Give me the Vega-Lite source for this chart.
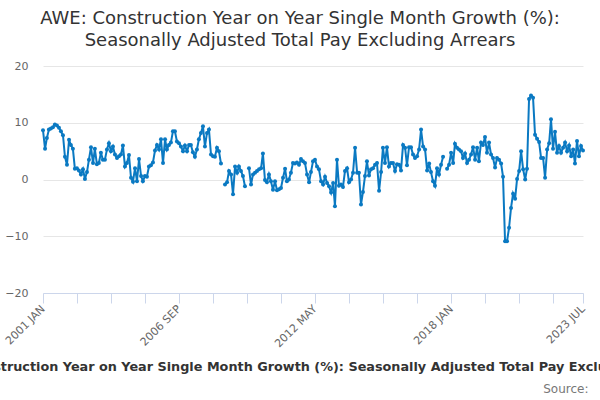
{
  "$schema": "https://vega.github.io/schema/vega-lite/v6.json",
  "width": 540,
  "height": 227,
  "autosize": {"type": "none"},
  "padding": {"left": 43, "top": 66, "right": 17, "bottom": 107},
  "background": "white",
  "config": {"view": {"stroke": null}, "font": "DejaVu Sans"},
  "title": {
    "text": ["AWE: Construction Year on Year Single Month Growth (%):", "Seasonally Adjusted Total Pay Excluding Arrears"],
    "fontSize": 18,
    "fontWeight": "normal",
    "color": "#333333",
    "font": "DejaVu Sans",
    "anchor": "middle",
    "dx": -13,
    "offset": 10,
    "lineHeight": 22
  },
  "data": {
    "values": [
      {"d": "2001-01", "v": 8.7, "s": 1}, {"d": "2001-02", "v": 5.4, "s": 1}, {"d": "2001-03", "v": 7.3, "s": 1}, {"d": "2001-04", "v": 8.8, "s": 1},
      {"d": "2001-05", "v": 9.0, "s": 1}, {"d": "2001-06", "v": 9.2, "s": 1}, {"d": "2001-07", "v": 9.7, "s": 1}, {"d": "2001-08", "v": 9.5, "s": 1},
      {"d": "2001-09", "v": 9.1, "s": 1}, {"d": "2001-10", "v": 8.5, "s": 1}, {"d": "2001-11", "v": 7.8, "s": 1}, {"d": "2001-12", "v": 4.0, "s": 1},
      {"d": "2002-01", "v": 2.6, "s": 1}, {"d": "2002-02", "v": 7.0, "s": 1}, {"d": "2002-03", "v": 6.1, "s": 1}, {"d": "2002-04", "v": 5.4, "s": 1},
      {"d": "2002-05", "v": 1.9, "s": 1}, {"d": "2002-06", "v": 2.0, "s": 1}, {"d": "2002-07", "v": 1.6, "s": 1}, {"d": "2002-08", "v": 0.9, "s": 1},
      {"d": "2002-09", "v": 1.8, "s": 1}, {"d": "2002-10", "v": 0.1, "s": 1}, {"d": "2002-11", "v": 1.3, "s": 1}, {"d": "2002-12", "v": 3.5, "s": 1},
      {"d": "2003-01", "v": 5.7, "s": 1}, {"d": "2003-02", "v": 2.9, "s": 1}, {"d": "2003-03", "v": 5.4, "s": 1}, {"d": "2003-04", "v": 2.7, "s": 1},
      {"d": "2003-05", "v": 2.9, "s": 1}, {"d": "2003-06", "v": 4.7, "s": 1}, {"d": "2003-07", "v": 3.5, "s": 1}, {"d": "2003-08", "v": 3.5, "s": 1},
      {"d": "2003-09", "v": 5.3, "s": 1}, {"d": "2003-10", "v": 6.4, "s": 1}, {"d": "2003-11", "v": 5.0, "s": 1}, {"d": "2003-12", "v": 5.8, "s": 1},
      {"d": "2004-01", "v": 4.4, "s": 1}, {"d": "2004-02", "v": 3.8, "s": 1}, {"d": "2004-03", "v": 4.1, "s": 1}, {"d": "2004-04", "v": 4.4, "s": 1},
      {"d": "2004-05", "v": 6.0, "s": 1}, {"d": "2004-06", "v": 2.3, "s": 1}, {"d": "2004-07", "v": 2.9, "s": 1}, {"d": "2004-08", "v": 4.3, "s": 1},
      {"d": "2004-09", "v": 0.3, "s": 1}, {"d": "2004-10", "v": -0.4, "s": 1}, {"d": "2004-11", "v": 2.0, "s": 1}, {"d": "2004-12", "v": -0.3, "s": 1},
      {"d": "2005-01", "v": 3.6, "s": 1}, {"d": "2005-02", "v": 0.6, "s": 1}, {"d": "2005-03", "v": -0.3, "s": 1}, {"d": "2005-04", "v": 0.6, "s": 1},
      {"d": "2005-05", "v": 0.5, "s": 1}, {"d": "2005-06", "v": 2.3, "s": 1}, {"d": "2005-07", "v": 2.5, "s": 1}, {"d": "2005-08", "v": 3.0, "s": 1},
      {"d": "2005-09", "v": 5.1, "s": 1}, {"d": "2005-10", "v": 6.1, "s": 1}, {"d": "2005-11", "v": 5.3, "s": 1}, {"d": "2005-12", "v": 7.1, "s": 1},
      {"d": "2006-01", "v": 2.9, "s": 1}, {"d": "2006-02", "v": 7.1, "s": 1}, {"d": "2006-03", "v": 5.3, "s": 1}, {"d": "2006-04", "v": 6.1, "s": 1},
      {"d": "2006-05", "v": 6.5, "s": 1}, {"d": "2006-06", "v": 8.5, "s": 1}, {"d": "2006-07", "v": 8.5, "s": 1}, {"d": "2006-08", "v": 6.7, "s": 1},
      {"d": "2006-09", "v": 6.4, "s": 1}, {"d": "2006-10", "v": 5.8, "s": 1}, {"d": "2006-11", "v": 5.0, "s": 1}, {"d": "2006-12", "v": 6.0, "s": 1},
      {"d": "2007-01", "v": 5.0, "s": 1}, {"d": "2007-02", "v": 6.1, "s": 1}, {"d": "2007-03", "v": 6.1, "s": 1}, {"d": "2007-04", "v": 4.8, "s": 1},
      {"d": "2007-05", "v": 4.0, "s": 1}, {"d": "2007-06", "v": 5.3, "s": 1}, {"d": "2007-07", "v": 7.1, "s": 1}, {"d": "2007-08", "v": 8.2, "s": 1},
      {"d": "2007-09", "v": 9.4, "s": 1}, {"d": "2007-10", "v": 5.8, "s": 1}, {"d": "2007-11", "v": 8.2, "s": 1}, {"d": "2007-12", "v": 8.8, "s": 1},
      {"d": "2008-01", "v": 4.4, "s": 1}, {"d": "2008-02", "v": 4.1, "s": 1}, {"d": "2008-03", "v": 4.0, "s": 1}, {"d": "2008-04", "v": 5.6, "s": 1},
      {"d": "2008-05", "v": 5.0, "s": 1}, {"d": "2008-06", "v": 2.8, "s": 1},
      {"d": "2008-08", "v": -0.9, "s": 2}, {"d": "2008-09", "v": -0.5, "s": 2}, {"d": "2008-10", "v": 1.5, "s": 2}, {"d": "2008-11", "v": 0.9, "s": 2},
      {"d": "2008-12", "v": -2.6, "s": 2}, {"d": "2009-01", "v": 2.3, "s": 2}, {"d": "2009-02", "v": 1.2, "s": 2}, {"d": "2009-03", "v": 2.3, "s": 2},
      {"d": "2009-04", "v": 1.5, "s": 2}, {"d": "2009-05", "v": 0.6, "s": 2}, {"d": "2009-06", "v": -1.2, "s": 2},
      {"d": "2009-08", "v": 2.0, "s": 3}, {"d": "2009-09", "v": -0.9, "s": 3}, {"d": "2009-10", "v": 0.9, "s": 3}, {"d": "2009-11", "v": 1.2, "s": 3},
      {"d": "2009-12", "v": 1.5, "s": 3},
      {"d": "2010-01", "v": 1.8, "s": 3}, {"d": "2010-02", "v": 2.0, "s": 3}, {"d": "2010-03", "v": 4.6, "s": 3}, {"d": "2010-04", "v": -0.1, "s": 3},
      {"d": "2010-05", "v": -0.5, "s": 3}, {"d": "2010-06", "v": 0.9, "s": 3}, {"d": "2010-07", "v": -0.3, "s": 3}, {"d": "2010-08", "v": -1.8, "s": 3},
      {"d": "2010-09", "v": -0.3, "s": 3}, {"d": "2010-10", "v": -1.9, "s": 3}, {"d": "2010-11", "v": -1.7, "s": 3}, {"d": "2010-12", "v": -1.5, "s": 3},
      {"d": "2011-01", "v": 0.3, "s": 3}, {"d": "2011-02", "v": 1.9, "s": 3}, {"d": "2011-03", "v": -0.3, "s": 3}, {"d": "2011-04", "v": 0.0, "s": 3},
      {"d": "2011-05", "v": 1.2, "s": 3}, {"d": "2011-06", "v": 2.9, "s": 3}, {"d": "2011-07", "v": 2.8, "s": 3}, {"d": "2011-08", "v": 3.0, "s": 3},
      {"d": "2011-09", "v": 2.6, "s": 3}, {"d": "2011-10", "v": 3.6, "s": 3}, {"d": "2011-11", "v": 3.2, "s": 3}, {"d": "2011-12", "v": 2.9, "s": 3},
      {"d": "2012-01", "v": 0.9, "s": 3}, {"d": "2012-02", "v": -0.5, "s": 3}, {"d": "2012-03", "v": 1.3, "s": 3}, {"d": "2012-04", "v": 3.2, "s": 3},
      {"d": "2012-05", "v": 3.5, "s": 3}, {"d": "2012-06", "v": 2.3, "s": 3}, {"d": "2012-07", "v": 1.8, "s": 3}, {"d": "2012-08", "v": -0.3, "s": 3},
      {"d": "2012-09", "v": -0.9, "s": 3}, {"d": "2012-10", "v": 0.5, "s": 3}, {"d": "2012-11", "v": -0.6, "s": 3}, {"d": "2012-12", "v": -1.2, "s": 3},
      {"d": "2013-01", "v": -2.3, "s": 3}, {"d": "2013-02", "v": -0.6, "s": 3}, {"d": "2013-03", "v": -4.7, "s": 3}, {"d": "2013-04", "v": 3.5, "s": 3},
      {"d": "2013-05", "v": -1.1, "s": 3}, {"d": "2013-06", "v": -0.9, "s": 3}, {"d": "2013-07", "v": -1.3, "s": 3}, {"d": "2013-08", "v": 1.5, "s": 3},
      {"d": "2013-09", "v": 2.0, "s": 3}, {"d": "2013-10", "v": -0.5, "s": 3}, {"d": "2013-11", "v": 0.0, "s": 3}, {"d": "2013-12", "v": 1.2, "s": 3},
      {"d": "2014-01", "v": 5.6, "s": 3}, {"d": "2014-02", "v": 1.2, "s": 3}, {"d": "2014-03", "v": 1.2, "s": 3}, {"d": "2014-04", "v": -4.4, "s": 3},
      {"d": "2014-05", "v": -2.2, "s": 3}, {"d": "2014-06", "v": 0.6, "s": 3}, {"d": "2014-07", "v": 3.2, "s": 3}, {"d": "2014-08", "v": 0.7, "s": 3},
      {"d": "2014-09", "v": 1.8, "s": 3}, {"d": "2014-10", "v": 2.0, "s": 3}, {"d": "2014-11", "v": 2.6, "s": 3}, {"d": "2014-12", "v": 2.9, "s": 3},
      {"d": "2015-01", "v": -2.0, "s": 3}, {"d": "2015-02", "v": 1.3, "s": 3}, {"d": "2015-03", "v": 5.6, "s": 3}, {"d": "2015-04", "v": 2.9, "s": 3},
      {"d": "2015-05", "v": 5.7, "s": 3}, {"d": "2015-06", "v": 2.3, "s": 3}, {"d": "2015-07", "v": 2.9, "s": 3}, {"d": "2015-08", "v": 2.9, "s": 3},
      {"d": "2015-09", "v": 1.5, "s": 3}, {"d": "2015-10", "v": 2.7, "s": 3}, {"d": "2015-11", "v": 2.6, "s": 3}, {"d": "2015-12", "v": 1.6, "s": 3},
      {"d": "2016-01", "v": 6.1, "s": 3}, {"d": "2016-02", "v": 5.6, "s": 3}, {"d": "2016-03", "v": 2.5, "s": 3}, {"d": "2016-04", "v": 5.7, "s": 3},
      {"d": "2016-05", "v": 5.7, "s": 3}, {"d": "2016-06", "v": 4.4, "s": 3}, {"d": "2016-07", "v": 3.8, "s": 3}, {"d": "2016-08", "v": 4.1, "s": 3},
      {"d": "2016-09", "v": 5.3, "s": 3}, {"d": "2016-10", "v": 8.8, "s": 3}, {"d": "2016-11", "v": 5.8, "s": 3}, {"d": "2016-12", "v": 5.3, "s": 3},
      {"d": "2017-01", "v": 1.6, "s": 3}, {"d": "2017-02", "v": 2.8, "s": 3}, {"d": "2017-03", "v": 1.3, "s": 3}, {"d": "2017-04", "v": -0.3, "s": 3},
      {"d": "2017-05", "v": -1.1, "s": 3}, {"d": "2017-06", "v": 2.0, "s": 3}, {"d": "2017-07", "v": 0.9, "s": 3}, {"d": "2017-08", "v": 2.6, "s": 3},
      {"d": "2017-09", "v": 4.0, "s": 3},
      {"d": "2017-11", "v": 1.9, "s": 4}, {"d": "2017-12", "v": 2.6, "s": 4},
      {"d": "2018-01", "v": 4.7, "s": 4}, {"d": "2018-02", "v": 2.9, "s": 4}, {"d": "2018-03", "v": 6.3, "s": 4}, {"d": "2018-04", "v": 5.6, "s": 4},
      {"d": "2018-05", "v": 5.3, "s": 4}, {"d": "2018-06", "v": 5.0, "s": 4}, {"d": "2018-07", "v": 3.8, "s": 4}, {"d": "2018-08", "v": 4.6, "s": 4},
      {"d": "2018-09", "v": 2.9, "s": 4}, {"d": "2018-10", "v": 3.5, "s": 4}, {"d": "2018-11", "v": 4.4, "s": 4}, {"d": "2018-12", "v": 5.7, "s": 4},
      {"d": "2019-01", "v": 3.5, "s": 4}, {"d": "2019-02", "v": 5.6, "s": 4}, {"d": "2019-03", "v": 3.2, "s": 4}, {"d": "2019-04", "v": 6.5, "s": 4},
      {"d": "2019-05", "v": 6.1, "s": 4}, {"d": "2019-06", "v": 7.5, "s": 4}, {"d": "2019-07", "v": 4.7, "s": 4}, {"d": "2019-08", "v": 6.5, "s": 4},
      {"d": "2019-09", "v": 4.4, "s": 4}, {"d": "2019-10", "v": 3.8, "s": 4}, {"d": "2019-11", "v": 2.1, "s": 4}, {"d": "2019-12", "v": 3.8, "s": 4},
      {"d": "2020-01", "v": 3.5, "s": 4}, {"d": "2020-02", "v": 2.8, "s": 4}, {"d": "2020-03", "v": 0.5, "s": 4}, {"d": "2020-04", "v": -10.9, "s": 4},
      {"d": "2020-05", "v": -10.9, "s": 4}, {"d": "2020-06", "v": -8.5, "s": 4}, {"d": "2020-07", "v": -5.0, "s": 4}, {"d": "2020-08", "v": -2.5, "s": 4},
      {"d": "2020-09", "v": -3.4, "s": 4}, {"d": "2020-10", "v": 0.1, "s": 4}, {"d": "2020-11", "v": 1.5, "s": 4}, {"d": "2020-12", "v": 5.0, "s": 4},
      {"d": "2021-01", "v": 1.8, "s": 4}, {"d": "2021-02", "v": 0.0, "s": 4}, {"d": "2021-03", "v": 1.9, "s": 4}, {"d": "2021-04", "v": 14.2, "s": 4},
      {"d": "2021-05", "v": 14.8, "s": 4}, {"d": "2021-06", "v": 14.4, "s": 4}, {"d": "2021-07", "v": 7.9, "s": 4}, {"d": "2021-08", "v": 7.2, "s": 4},
      {"d": "2021-09", "v": 6.6, "s": 4}, {"d": "2021-10", "v": 3.8, "s": 4}, {"d": "2021-11", "v": 3.8, "s": 4}, {"d": "2021-12", "v": 0.3, "s": 4},
      {"d": "2022-01", "v": 5.3, "s": 4}, {"d": "2022-02", "v": 6.4, "s": 4}, {"d": "2022-03", "v": 10.6, "s": 4}, {"d": "2022-04", "v": 5.4, "s": 4},
      {"d": "2022-05", "v": 8.4, "s": 4}, {"d": "2022-06", "v": 4.7, "s": 4}, {"d": "2022-07", "v": 5.9, "s": 4}, {"d": "2022-08", "v": 4.7, "s": 4},
      {"d": "2022-09", "v": 5.6, "s": 4}, {"d": "2022-10", "v": 6.5, "s": 4}, {"d": "2022-11", "v": 5.0, "s": 4}, {"d": "2022-12", "v": 6.0, "s": 4},
      {"d": "2023-01", "v": 4.1, "s": 4}, {"d": "2023-02", "v": 5.3, "s": 4}, {"d": "2023-03", "v": 2.8, "s": 4}, {"d": "2023-04", "v": 6.8, "s": 4},
      {"d": "2023-05", "v": 4.1, "s": 4}, {"d": "2023-06", "v": 5.9, "s": 4}, {"d": "2023-07", "v": 5.1, "s": 4}
    ]
  },
  "mark": {
    "type": "line",
    "color": "#0a79c2",
    "strokeWidth": 2,
    "point": {"filled": true, "size": 16, "color": "#0a79c2"}
  },
  "encoding": {
    "x": {
      "field": "d",
      "type": "temporal",
      "scale": {
        "type": "utc",
        "nice": false,
        "domain": [
          {"year": 2001, "month": 1, "date": 1, "utc": true},
          {"year": 2023, "month": 7, "date": 1, "utc": true}
        ]
      },
      "axis": {
        "title": "AWE: Construction Year on Year Single Month Growth (%): Seasonally Adjusted Total Pay Excluding Arrears",
        "titleFontSize": 12.8,
        "titleFontWeight": "bold",
        "titleColor": "#333333",
        "titleLimit": 1000,
        "titleX": 267,
        "titleY": 73,
        "titleAlign": "center",
        "titleBaseline": "middle",
        "values": [
          {"year": 2001, "month": 1, "date": 1, "utc": true},
          {"year": 2002, "month": 6, "date": 1, "utc": true},
          {"year": 2003, "month": 11, "date": 1, "utc": true},
          {"year": 2005, "month": 4, "date": 1, "utc": true},
          {"year": 2006, "month": 9, "date": 1, "utc": true},
          {"year": 2008, "month": 2, "date": 1, "utc": true},
          {"year": 2009, "month": 7, "date": 1, "utc": true},
          {"year": 2010, "month": 12, "date": 1, "utc": true},
          {"year": 2012, "month": 5, "date": 1, "utc": true},
          {"year": 2013, "month": 10, "date": 1, "utc": true},
          {"year": 2015, "month": 3, "date": 1, "utc": true},
          {"year": 2016, "month": 8, "date": 1, "utc": true},
          {"year": 2018, "month": 1, "date": 1, "utc": true},
          {"year": 2019, "month": 6, "date": 1, "utc": true},
          {"year": 2020, "month": 11, "date": 1, "utc": true},
          {"year": 2022, "month": 4, "date": 1, "utc": true},
          {"year": 2023, "month": 7, "date": 1, "utc": true}
        ],
        "labelExpr": "indexof(['2001-01','2006-09','2012-05','2018-01','2023-07'], utcFormat(datum.value, '%Y-%m')) >= 0 ? upper(utcFormat(datum.value, '%Y %b')) : ''",
        "labelAngle": -45,
        "labelAlign": "right",
        "labelBaseline": "middle",
        "labelFontSize": 11,
        "labelColor": "#666666",
        "labelPadding": 4,
        "labelOverlap": false,
        "labelFlush": false,
        "labelBound": false,
        "tickSize": 10,
        "tickColor": "#ccd6eb",
        "domainColor": "#ccd6eb",
        "grid": false
      }
    },
    "y": {
      "field": "v",
      "type": "quantitative",
      "scale": {"domain": [-20, 20], "nice": false},
      "axis": {
        "title": "Source:",
        "titleAngle": 0,
        "titleAlign": "right",
        "titleBaseline": "middle",
        "titleX": 545,
        "titleY": 322,
        "titleFontSize": 12,
        "titleFontWeight": "normal",
        "titleColor": "#777777",
        "values": [-20, -10, 0, 10, 20],
        "domain": false,
        "ticks": false,
        "labelPadding": 15,
        "labelColor": "#666666",
        "labelFontSize": 11,
        "gridColor": "#e6e6e6"
      }
    },
    "detail": {"field": "s", "type": "nominal"}
  }
}
